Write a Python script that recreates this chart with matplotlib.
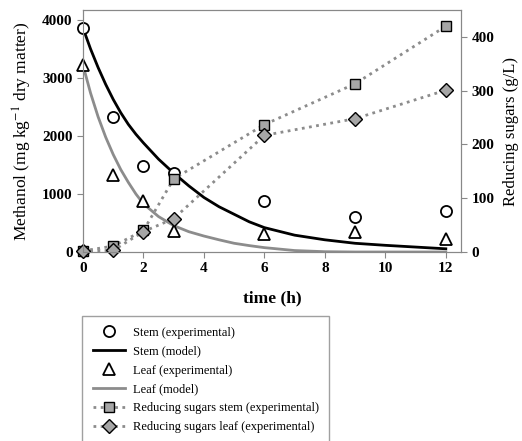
import numpy as np
import matplotlib.pyplot as plt

plt.rcParams['font.family'] = ['Liberation Serif', 'DejaVu Serif']
plt.rcParams['mathtext.fontset'] = 'stix'

# experimental methanol (mg/kg dry matter)
t_exp = [0, 1, 2, 3, 6, 9, 12]
stem_exp = [3860, 2330, 1480, 1360, 880, 610, 700]
leaf_exp = [3220, 1330, 880, 360, 310, 350, 230]

# model curves
t_model = [0, 0.25, 0.5, 0.75, 1, 1.25, 1.5, 1.75, 2, 2.5, 3, 3.5, 4, 4.5, 5, 5.5, 6,
           7, 8, 9, 10, 11, 12]
stem_model = [3860, 3500, 3180, 2890, 2630, 2400, 2200, 2030, 1880, 1600, 1360, 1140,
              940, 780, 650, 520, 420, 290, 210, 150, 115, 85, 55]
leaf_model = [3220, 2740, 2330, 1980, 1680, 1420, 1200, 1000, 830, 610, 455, 350,
              275, 210, 150, 110, 75, 25, 5, 0, 0, 0, 0]

# reducing sugars (g/L)
sug_stem = [2, 11, 40, 136, 237, 313, 420]
sug_leaf = [2, 3, 38, 62, 217, 248, 301]

fig = plt.figure(figsize=(5.22, 4.41), dpi=100)
ax = fig.add_axes([0.159, 0.4286, 0.724, 0.5485])
ax2 = ax.twinx()

h1, = ax.plot(t_exp, stem_exp, 'o', ms=8, mfc='white', mec='black', mew=1.3,
              ls='none', clip_on=False, zorder=4, label='Stem (experimental)')
h2, = ax.plot(t_model, stem_model, color='black', lw=2, label='Stem (model)')
h3, = ax.plot(t_exp, leaf_exp, '^', ms=8, mfc='white', mec='black', mew=1.3,
              ls='none', clip_on=False, zorder=4, label='Leaf (experimental)')
h4, = ax.plot(t_model, leaf_model, color='#8c8c8c', lw=2, label='Leaf (model)')

dots = (0, (1, 1.6))
h5, = ax2.plot(t_exp, sug_stem, marker='s', ms=7, mfc='#a6a6a6', mec='black', mew=1.0,
               color='#8c8c8c', lw=2, ls=dots, clip_on=False,
               label='Reducing sugars stem (experimental)')
h6, = ax2.plot(t_exp, sug_leaf, marker='D', ms=7, mfc='#a6a6a6', mec='black', mew=1.0,
               color='#8c8c8c', lw=2, ls=dots, clip_on=False,
               label='Reducing sugars leaf (experimental)')

ax.set_xlim(0, 12.5)
ax.set_ylim(0, 4170)
ax2.set_ylim(0, 450)
ax.set_xticks([0, 2, 4, 6, 8, 10, 12])
ax.set_yticks([0, 1000, 2000, 3000, 4000])
ax2.set_yticks([0, 100, 200, 300, 400])

for a in (ax, ax2):
    for s in a.spines.values():
        s.set_color('#888888')
    a.tick_params(colors='#888888', labelcolor='black', length=4, labelsize=11)
    for lab in a.get_xticklabels() + a.get_yticklabels():
        lab.set_fontweight('bold')

ax.set_xlabel('time (h)', fontsize=12.5, fontweight='bold', labelpad=11)
ax.set_ylabel('Methanol (mg kg$^{-1}$ dry matter)', fontsize=12.5, labelpad=6)
ax2.set_ylabel('Reducing sugars (g/L)', fontsize=12, labelpad=6)

leg = fig.legend(handles=[h1, h2, h3, h4, h5, h6], loc='upper left',
                 bbox_to_anchor=(0.157, 0.283), borderaxespad=0, fontsize=9,
                 frameon=True, fancybox=False, edgecolor='#888888', handlelength=2.6,
                 labelspacing=0.55, borderpad=0.85, handletextpad=0.6)
leg.get_frame().set_linewidth(1.0)

fig.savefig('out.png', dpi=100)
